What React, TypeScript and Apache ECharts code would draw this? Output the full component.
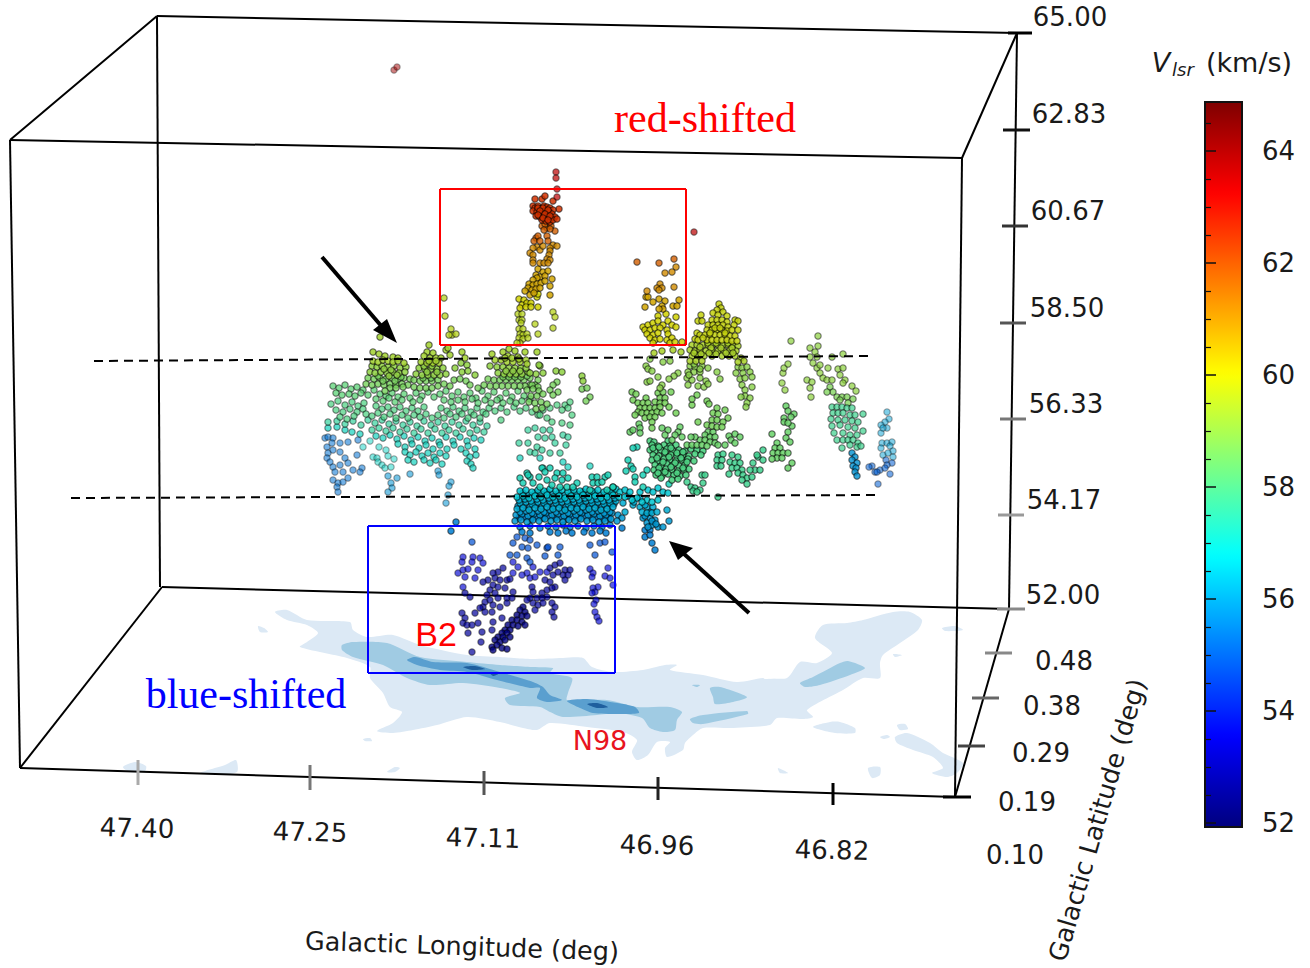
import React, { useEffect, useRef } from "react";
import * as echarts from "echarts";

// Tick labels
const velocityTicks = ["65.00", "62.83", "60.67", "58.50", "56.33", "54.17", "52.00"];
const longitudeTicks = ["47.40", "47.25", "47.11", "46.96", "46.82"];
const latitudeTicks = ["0.48", "0.38", "0.29", "0.19", "0.10"];
const jet = ["#00007f", "#0000ff", "#007fff", "#00ffff", "#7fff7f", "#ffff00", "#ff7f00", "#ff0000", "#7f0000"];
const jetShaded = ["#000068", "#0000d1", "#0068d1", "#00d1d1", "#68d168", "#d1d100", "#d16800", "#d10000", "#680000"];

const stray640 = [394, 70, 397, 67];
const top642 = [556, 172, 556, 178, 557, 189, 557, 197, 694, 232];
const top636 = [535, 199, 542, 199, 545, 196, 553, 201, 559, 209, 533, 206, 535, 208, 538, 206, 541, 209, 544, 206, 547, 207, 550, 208, 553, 210, 533, 211, 537, 212, 541, 213, 545, 211, 549, 212, 552, 214, 536, 216, 540, 217, 544, 216, 548, 217, 551, 218, 555, 217, 542, 220, 546, 221, 550, 222, 553, 220, 557, 219, 538, 208, 543, 208, 548, 210, 540, 211, 545, 214, 538, 215, 550, 216, 543, 218, 548, 220];
const column626 = [547, 228, 542, 226, 545, 224, 551, 226, 555, 231, 550, 229, 544, 230, 536, 238, 534, 241, 538, 236, 540, 241, 547, 236, 548, 241, 637, 262, 659, 263, 674, 259];
const column616 = [553, 245, 557, 246, 550, 248, 537, 247, 533, 248, 540, 250, 543, 246, 530, 253, 533, 255, 550, 251, 549, 255, 547, 259, 550, 260, 533, 260, 533, 263, 540, 263, 544, 263, 548, 263, 676, 267, 672, 272, 665, 273, 660, 284, 657, 288, 662, 288, 659, 290, 674, 287, 647, 291];
const column608 = [538, 269, 543, 272, 548, 271, 536, 275, 540, 277, 545, 276, 537, 278, 533, 280, 529, 284, 533, 285, 537, 284, 541, 283, 545, 281, 528, 288, 532, 290, 536, 289, 540, 288, 525, 291, 530, 295, 534, 293, 552, 279, 550, 286, 550, 295, 646, 297, 648, 297, 659, 299, 653, 302, 665, 301, 679, 300, 662, 306, 645, 307, 673, 306, 677, 306, 663, 309, 659, 309];
const column601 = [537, 297, 538, 294, 519, 299, 524, 300, 522, 305, 527, 303, 531, 303, 520, 308, 526, 307, 531, 307, 538, 307, 658, 316, 666, 314, 676, 317, 643, 327, 648, 325, 653, 323, 658, 321, 663, 325, 668, 321, 672, 325, 676, 327, 645, 330, 650, 330, 655, 328, 660, 328, 667, 330, 647, 334, 653, 335, 658, 333, 668, 334, 650, 338, 655, 340, 660, 339, 667, 340, 672, 338, 653, 343, 670, 343, 675, 342, 682, 342];
const column596 = [553, 312, 555, 317, 553, 328, 535, 324, 538, 334, 518, 314, 522, 314, 519, 320, 522, 320, 521, 323, 519, 329, 523, 329, 520, 334, 523, 335, 527, 334, 519, 338, 523, 339, 528, 338, 520, 343, 517, 343, 444, 298, 445, 316, 451, 329, 452, 335, 456, 334, 449, 335];
const peak598 = [719, 304, 721, 308, 717, 310, 723, 312, 713, 313, 718, 315, 727, 316, 701, 315, 698, 321, 702, 321, 735, 320, 738, 321, 734, 325, 712, 320, 717, 320, 722, 320, 727, 322, 708, 325, 713, 325, 718, 325, 723, 325, 728, 327, 707, 330, 712, 330, 717, 330, 722, 330, 727, 331, 732, 330, 738, 330, 697, 333, 700, 335, 705, 335, 710, 335, 715, 335, 720, 335, 725, 335, 730, 336, 735, 336, 695, 339, 698, 340, 707, 340, 712, 340, 717, 340, 722, 340, 727, 340, 732, 341, 737, 341, 715, 328, 720, 328, 710, 333, 725, 333, 703, 338];
const peak594 = [692, 345, 697, 345, 703, 345, 708, 345, 713, 345, 718, 345, 723, 345, 728, 345, 733, 345, 738, 346, 690, 350, 695, 351, 700, 350, 706, 351, 712, 350, 718, 351, 724, 351, 730, 350, 736, 351, 692, 356, 698, 356, 704, 356, 712, 356, 722, 356, 729, 356, 735, 356, 690, 361, 696, 361, 702, 361, 741, 358, 744, 361, 738, 362, 654, 353, 662, 351, 673, 350, 681, 352, 708, 343, 716, 343, 728, 343, 700, 347, 711, 348, 721, 348, 732, 348, 694, 353, 701, 354, 709, 353, 716, 354, 726, 353, 733, 353];
const peak589 = [690, 366, 695, 367, 702, 366, 708, 368, 738, 367, 742, 368, 747, 367, 688, 372, 694, 372, 700, 372, 736, 373, 743, 373, 750, 372, 687, 378, 692, 380, 700, 378, 706, 381, 717, 372, 720, 379, 740, 379, 745, 378, 752, 377, 688, 385, 698, 386, 704, 387, 708, 384, 742, 385, 745, 390, 752, 387, 745, 396, 750, 398, 747, 403, 741, 397, 746, 407, 650, 359, 663, 362, 670, 361, 646, 366, 648, 369, 652, 371, 678, 373, 674, 376, 669, 379, 658, 377, 647, 382, 650, 381, 662, 385, 660, 388, 694, 364, 700, 369, 689, 375];
const middle586 = [632, 392, 636, 394, 633, 400, 646, 398, 658, 393, 663, 392, 671, 392, 660, 398, 665, 398, 638, 403, 643, 403, 648, 403, 655, 402, 660, 403, 665, 403, 669, 407, 676, 413, 640, 408, 645, 408, 650, 408, 655, 408, 660, 407, 638, 412, 635, 415, 642, 413, 647, 413, 652, 413, 657, 412, 645, 418, 650, 417, 655, 417, 662, 413, 652, 422, 652, 428, 692, 405, 697, 395, 692, 399, 707, 401, 709, 404, 698, 422, 717, 408, 725, 410, 713, 413, 718, 414, 728, 418, 712, 420, 717, 420, 723, 422, 707, 425, 712, 426, 717, 427, 722, 427];
const middle584 = [630, 432, 633, 430, 639, 424, 640, 428, 640, 433, 662, 428, 668, 430, 665, 435, 680, 427, 678, 432, 675, 435, 682, 437, 672, 440, 708, 432, 713, 432, 705, 435, 710, 437, 715, 437, 700, 440, 705, 440, 710, 442, 715, 443, 695, 437, 691, 437, 687, 445, 692, 445, 697, 445, 702, 445, 707, 446, 718, 445, 725, 445, 729, 436, 735, 434, 740, 437, 731, 440, 735, 443, 777, 443, 775, 448, 780, 448, 773, 453, 778, 453, 783, 453, 777, 458, 782, 458, 788, 453, 772, 459, 792, 463, 788, 468, 772, 434, 788, 432, 786, 438, 790, 442, 786, 406, 788, 411, 794, 414, 784, 418, 791, 417, 792, 426, 784, 422, 788, 423];
const dense580 = [650, 441, 654, 442, 668, 441, 652, 445, 658, 446, 664, 445, 670, 446, 676, 445, 650, 450, 655, 451, 661, 450, 667, 449, 673, 451, 679, 450, 685, 451, 691, 449, 697, 450, 703, 451, 653, 455, 659, 456, 665, 454, 671, 455, 677, 456, 683, 455, 689, 456, 695, 454, 701, 455, 652, 460, 658, 461, 664, 459, 670, 460, 676, 461, 682, 460, 688, 459, 694, 461, 655, 465, 661, 466, 667, 464, 673, 465, 679, 466, 685, 465, 654, 470, 660, 471, 666, 469, 672, 470, 678, 471, 684, 470, 689, 469, 656, 475, 662, 476, 668, 474, 674, 475, 680, 476, 686, 475, 661, 478, 672, 480, 678, 479, 653, 448, 659, 447, 665, 452, 671, 448, 677, 453, 683, 452, 657, 458, 663, 462, 669, 457, 675, 463, 681, 458, 687, 462, 659, 468, 665, 472, 671, 467, 677, 473, 683, 468, 658, 473];
const wing578 = [718, 455, 723, 454, 732, 455, 738, 457, 717, 460, 722, 460, 717, 466, 721, 466, 730, 462, 735, 463, 740, 463, 732, 468, 737, 468, 742, 470, 729, 474, 738, 473, 743, 475, 747, 478, 742, 480, 747, 484, 752, 477, 755, 470, 750, 470, 760, 470, 753, 463, 758, 457, 763, 460, 757, 455, 763, 450, 687, 482, 691, 487, 702, 475, 705, 475, 703, 483, 695, 488, 700, 490, 693, 491, 697, 492, 718, 497];
const ridgeFar590 = [791, 341, 818, 336, 810, 348, 818, 346, 815, 352, 810, 357, 817, 357, 843, 354, 832, 357, 813, 363, 817, 368, 820, 365, 820, 373, 823, 378, 828, 368, 827, 380, 832, 380, 838, 369, 843, 368, 840, 375, 845, 380, 843, 383, 807, 380, 812, 382, 810, 388, 811, 397, 852, 386, 856, 391, 782, 383, 785, 390, 783, 373, 784, 368, 788, 364];
const ridgeFar587 = [830, 387, 833, 392, 827, 392, 837, 397, 842, 397, 847, 397, 853, 399, 848, 403, 840, 400];
const ridgeFar578 = [832, 407, 837, 407, 842, 407, 847, 408, 852, 408, 833, 413, 838, 413, 843, 413, 850, 415, 855, 415, 863, 414, 831, 419, 838, 420, 845, 420, 852, 421, 858, 422, 832, 426, 840, 425, 848, 427, 855, 428, 863, 431, 834, 433, 843, 433, 850, 435, 857, 435, 837, 440, 843, 440, 848, 440, 853, 440, 858, 443, 842, 448, 850, 445, 857, 447, 861, 446];
const ridgeFar558 = [852, 453, 855, 457, 852, 460, 857, 463, 853, 466, 856, 468, 855, 472, 857, 476];
const edgeFar560 = [887, 412, 889, 419, 885, 422, 881, 425, 887, 428, 881, 433, 883, 428, 882, 443, 887, 443, 892, 442, 881, 448, 890, 446, 893, 451, 883, 455, 888, 453, 893, 457];
const edgeFar550 = [886, 460, 892, 463, 887, 465, 872, 466, 869, 467, 875, 472, 880, 470, 885, 468, 890, 474, 878, 484, 877, 472];
const cloudTop593 = [373, 352, 379, 354, 385, 356, 393, 357, 398, 358, 380, 337, 373, 361, 378, 362, 383, 360, 388, 361, 393, 362, 398, 361, 404, 363, 429, 345, 427, 352, 433, 353, 424, 356, 430, 358, 436, 358, 441, 358, 421, 362, 427, 363, 433, 363, 439, 363, 446, 350, 450, 355, 448, 348, 462, 352, 465, 358, 492, 354, 503, 352, 509, 349, 515, 351, 518, 357, 525, 352, 508, 356, 501, 360, 507, 362, 513, 362, 520, 362, 526, 360, 537, 352, 495, 360, 429, 361, 436, 361, 505, 358, 512, 358, 519, 359, 527, 364];
const cloudTop590 = [372, 366, 377, 367, 382, 366, 388, 367, 394, 366, 400, 368, 406, 367, 370, 372, 375, 373, 381, 372, 387, 373, 393, 372, 399, 373, 405, 372, 419, 368, 425, 369, 431, 369, 437, 369, 443, 368, 416, 374, 422, 375, 428, 375, 434, 375, 440, 375, 446, 374, 461, 363, 467, 365, 455, 368, 462, 372, 468, 371, 475, 375, 490, 366, 497, 367, 503, 367, 509, 368, 515, 368, 521, 368, 498, 373, 504, 374, 510, 374, 516, 374, 522, 374, 528, 372, 536, 374, 540, 366, 530, 373, 539, 365, 543, 373, 556, 371, 562, 372, 582, 376, 583, 381, 384, 369, 391, 370, 397, 375, 389, 376, 424, 366, 432, 366, 427, 372, 437, 372, 506, 371, 513, 371, 520, 371, 526, 368];
const cloud586 = [368, 378, 374, 379, 380, 378, 386, 379, 392, 378, 398, 379, 404, 378, 410, 379, 366, 384, 372, 385, 378, 384, 384, 385, 390, 384, 396, 385, 402, 384, 408, 385, 414, 380, 420, 381, 426, 381, 432, 381, 438, 380, 454, 380, 460, 379, 466, 381, 488, 379, 494, 380, 500, 380, 506, 380, 512, 380, 518, 380, 524, 380, 530, 378, 538, 380, 535, 385, 530, 385, 525, 386, 520, 386, 514, 386, 508, 386, 502, 386, 496, 386, 490, 386, 484, 385, 478, 388, 532, 385, 538, 387, 557, 382, 553, 385, 550, 390, 558, 392, 553, 395, 582, 389, 587, 388, 590, 397, 586, 401, 414, 387, 420, 388, 426, 388, 432, 388, 438, 386, 444, 384, 450, 386, 470, 385, 383, 381, 395, 381, 401, 377, 378, 376, 390, 388, 396, 388, 385, 391, 403, 387, 423, 378, 431, 378, 503, 377, 509, 377, 515, 377, 521, 377, 527, 376, 527, 390, 533, 389, 539, 391, 531, 396, 537, 396, 543, 394, 529, 402, 535, 403, 541, 402, 547, 404, 536, 409, 542, 408];
const cloud582 = [333, 386, 339, 388, 345, 385, 351, 389, 357, 387, 363, 390, 336, 393, 342, 395, 349, 394, 355, 396, 361, 393, 368, 395, 374, 390, 380, 394, 386, 396, 392, 393, 398, 397, 404, 394, 410, 398, 416, 393, 422, 396, 428, 392, 434, 397, 440, 394, 446, 391, 452, 396, 458, 392, 464, 397, 470, 393, 476, 398, 482, 391, 488, 396, 494, 392, 500, 398, 506, 393, 512, 397, 518, 391, 524, 396, 530, 399, 376, 399, 383, 401, 389, 398, 395, 402, 402, 400, 413, 402, 420, 400, 444, 400, 451, 402, 458, 400, 465, 402, 472, 399, 478, 403, 485, 400, 491, 403, 497, 400, 503, 403, 510, 401, 516, 403, 522, 401];
const cloud580 = [331, 404, 338, 401, 345, 405, 352, 402, 358, 406, 364, 403, 336, 410, 343, 412, 350, 409, 357, 412, 363, 409, 376, 406, 382, 409, 388, 407, 394, 410, 400, 407, 406, 411, 412, 408, 418, 411, 424, 407, 441, 408, 447, 411, 453, 407, 459, 411, 465, 408, 471, 412, 477, 408, 483, 412, 489, 408, 495, 411, 501, 408, 507, 412, 514, 407, 520, 411, 526, 408, 532, 412, 538, 415, 340, 417, 347, 419, 354, 416, 366, 414, 372, 416, 378, 413, 384, 417, 390, 414, 396, 418, 402, 415, 408, 418, 414, 415, 420, 417, 426, 414, 432, 418, 438, 415, 444, 418, 450, 414, 456, 417, 462, 414, 468, 418, 474, 415, 480, 418, 486, 414, 501, 420, 550, 408, 557, 405, 565, 405, 570, 402, 568, 408, 562, 410, 543, 410, 540, 415, 547, 418, 552, 422, 572, 415, 562, 423, 570, 425];
const cloud576 = [328, 422, 337, 421, 345, 424, 353, 421, 361, 425, 368, 420, 375, 423, 382, 420, 389, 424, 396, 421, 403, 425, 410, 422, 417, 426, 424, 421, 431, 425, 438, 422, 445, 426, 452, 422, 459, 425, 466, 421, 473, 425, 480, 422, 487, 426, 372, 430, 379, 428, 386, 431, 393, 428, 400, 432, 407, 429, 414, 433, 421, 429, 428, 433, 435, 429, 442, 433, 449, 430, 456, 433, 463, 429, 470, 433, 477, 430, 484, 432, 528, 430, 535, 428, 543, 430, 550, 430, 563, 435, 568, 437, 538, 437, 545, 438, 552, 437, 555, 443, 566, 445, 519, 443, 528, 443, 537, 447, 542, 450, 550, 453, 560, 453, 530, 452, 535, 453];
const cloud571 = [328, 428, 337, 427, 345, 430, 352, 432, 360, 434, 376, 436, 383, 438, 390, 435, 397, 439, 404, 436, 411, 440, 418, 437, 425, 441, 432, 438, 439, 442, 446, 437, 453, 441, 460, 437, 467, 441, 474, 438, 481, 440, 398, 444, 405, 447, 412, 444, 419, 448, 426, 445, 433, 449, 440, 445, 447, 449, 454, 445, 461, 449, 468, 446, 475, 449, 405, 452, 410, 455, 416, 452, 422, 456, 428, 453, 434, 457, 440, 453, 446, 456, 466, 453, 470, 457, 476, 455, 408, 460, 414, 462, 424, 460, 430, 463, 436, 460, 442, 464, 467, 461, 471, 464, 473, 468, 520, 458, 540, 458, 563, 462, 568, 467, 590, 466, 543, 468];
const cloudFaint570 = [373, 457, 377, 458, 378, 462, 382, 465, 385, 468, 391, 467, 388, 456, 394, 459, 370, 441, 379, 447, 386, 450, 363, 447];
const cloudFaint558 = [388, 476, 397, 478, 391, 483, 392, 488, 388, 492, 410, 474, 438, 471, 439, 475, 451, 482, 449, 486, 448, 495, 446, 503];
const cloudBlue553 = [325, 438, 328, 437, 333, 438, 327, 447, 332, 443, 340, 443, 348, 442, 358, 440, 328, 453, 333, 450, 340, 452, 327, 458, 330, 462, 345, 458, 357, 455, 333, 467, 340, 465, 348, 463, 335, 472, 343, 472, 353, 470, 362, 468, 360, 472, 333, 480, 338, 483, 343, 482, 348, 478, 337, 487, 338, 492];
const band572 = [520, 478, 527, 473, 530, 477, 542, 468, 545, 472, 550, 468, 557, 473, 563, 473, 555, 478, 562, 480, 568, 478, 547, 480, 533, 483, 523, 483, 540, 487, 552, 485, 560, 487, 567, 487, 577, 483, 573, 487, 592, 477, 597, 477, 593, 483, 598, 483, 605, 477, 613, 487, 607, 490, 590, 490, 608, 475, 602, 482, 613, 487, 628, 460, 631, 466, 633, 469, 626, 471, 647, 470, 643, 475, 635, 477, 637, 447, 633, 448, 635, 482, 643, 487, 669, 484, 539, 477, 528, 475];
const band566 = [520, 491, 526, 490, 532, 492, 538, 490, 544, 491, 550, 489, 556, 491, 562, 490, 568, 492, 574, 490, 580, 491, 586, 489, 592, 491, 598, 490, 604, 492, 610, 491, 616, 489, 620, 492, 625, 490, 630, 492, 640, 492, 648, 490, 653, 492, 658, 488, 663, 492, 668, 493, 517, 497, 523, 496, 529, 498, 535, 496, 541, 497, 547, 495, 553, 497, 559, 496, 565, 498, 571, 496, 577, 497, 583, 495, 589, 497, 595, 496, 601, 498, 607, 497, 613, 495, 619, 497, 625, 497, 637, 498, 647, 500, 632, 500, 642, 502, 652, 502, 658, 500];
const band562 = [520, 503, 526, 502, 532, 504, 538, 502, 544, 503, 550, 501, 556, 503, 562, 502, 568, 504, 574, 502, 580, 503, 586, 501, 592, 503, 598, 502, 604, 504, 610, 503, 616, 501, 623, 503, 633, 505, 640, 507, 647, 507, 653, 507, 667, 510, 517, 509, 523, 508, 529, 510, 535, 508, 541, 509, 547, 507, 553, 509, 559, 508, 565, 510, 571, 508, 577, 509, 583, 507, 589, 509, 595, 508, 601, 510, 607, 509, 613, 507, 625, 512, 642, 512, 647, 513, 652, 513, 657, 512, 523, 493, 529, 495, 535, 493, 541, 494, 547, 492, 553, 494, 559, 493, 565, 495, 571, 493, 577, 494, 583, 492, 589, 494, 595, 493, 601, 495, 607, 494, 613, 492, 519, 500, 525, 499, 531, 501, 537, 499, 543, 500, 549, 498, 555, 500, 561, 499, 567, 501, 573, 499, 579, 500, 585, 498, 591, 500, 597, 499, 603, 501, 609, 500, 615, 498, 628, 496, 634, 502, 640, 498, 645, 505];
const band559 = [516, 515, 522, 514, 528, 516, 534, 514, 540, 515, 546, 513, 552, 515, 558, 514, 564, 516, 570, 514, 576, 515, 582, 513, 588, 515, 594, 514, 600, 516, 606, 515, 612, 513, 618, 515, 622, 518, 643, 518, 650, 518, 655, 520, 669, 521, 515, 521, 521, 520, 527, 522, 533, 520, 539, 521, 545, 519, 551, 521, 557, 520, 563, 522, 569, 520, 575, 521, 581, 519, 587, 521, 593, 520, 599, 522, 605, 521, 611, 519, 617, 521, 647, 523, 652, 525, 658, 527, 663, 527, 518, 506, 524, 505, 530, 507, 536, 505, 542, 506, 548, 504, 554, 506, 560, 505, 566, 507, 572, 505, 578, 506, 584, 504, 590, 506, 596, 505, 602, 507, 608, 506, 614, 504, 520, 512, 526, 511, 532, 513, 538, 511, 544, 512, 550, 510, 556, 512, 562, 511, 568, 513, 574, 511, 580, 512, 586, 510, 592, 512, 598, 511, 604, 513, 610, 512, 650, 512, 645, 516, 652, 521, 648, 527, 656, 524];
const band555 = [520, 527, 530, 526, 540, 528, 548, 526, 556, 527, 563, 525, 570, 527, 578, 526, 586, 528, 594, 526, 602, 527, 610, 525, 622, 528, 645, 530, 650, 530, 522, 532, 530, 533, 550, 532, 558, 533, 566, 531, 572, 533, 584, 532, 592, 533, 600, 531, 606, 533, 645, 537, 650, 535, 652, 543, 655, 550, 456, 522, 451, 531, 519, 518, 525, 517, 531, 519, 537, 517, 543, 518, 549, 516, 555, 518, 561, 517, 567, 519, 573, 517, 579, 518, 585, 516, 591, 518, 597, 517, 603, 519, 609, 518];
const blue548 = [517, 537, 525, 538, 530, 540, 537, 545, 513, 543, 522, 547, 528, 548, 547, 548, 560, 547, 510, 555, 517, 555, 527, 558, 530, 562, 548, 547, 545, 556, 558, 555, 472, 542, 595, 555, 600, 543, 605, 542, 612, 552, 590, 545];
const blue536 = [463, 557, 473, 557, 480, 558, 462, 562, 472, 562, 458, 573, 463, 570, 468, 569, 478, 570, 483, 563, 465, 577, 475, 578, 463, 587, 513, 562, 518, 567, 533, 567, 540, 572, 547, 572, 527, 573, 530, 578, 535, 577, 513, 573, 522, 575, 590, 569, 593, 573, 592, 577, 608, 568, 605, 576, 610, 578, 613, 585, 598, 587, 593, 588, 595, 592, 592, 593, 596, 600, 594, 604, 595, 612, 597, 617, 599, 621];
const blue527 = [498, 572, 503, 568, 493, 573, 488, 580, 483, 582, 495, 578, 500, 580, 507, 580, 510, 579, 493, 585, 498, 587, 490, 590, 505, 588, 487, 595, 495, 593, 470, 597, 465, 593, 513, 592, 532, 587, 533, 592, 485, 602, 490, 600, 498, 598, 507, 598, 512, 598, 483, 607, 480, 608, 493, 605, 500, 607, 507, 603, 485, 612, 475, 613, 492, 612, 462, 613, 465, 618, 463, 623, 467, 625, 472, 625, 478, 623, 468, 633, 482, 632, 481, 642, 472, 652, 493, 622, 502, 618, 492, 630, 550, 568, 555, 565, 560, 563, 565, 570, 570, 570, 563, 575, 568, 575, 565, 580, 558, 572, 553, 575, 545, 580, 550, 582, 555, 587, 547, 590, 552, 588, 542, 593, 547, 597, 537, 598, 542, 598, 533, 603, 538, 605, 543, 603, 535, 610, 552, 603, 555, 607, 552, 612, 554, 617, 530, 598, 527, 600];
const strand523 = [523, 607, 520, 610, 525, 612, 517, 615, 522, 616, 527, 616, 512, 620, 517, 620, 522, 622, 508, 625, 513, 625, 518, 626, 525, 625, 505, 630, 510, 630, 502, 633, 507, 633, 498, 637, 503, 637, 510, 637, 495, 640, 500, 642, 505, 640, 492, 647, 497, 645, 502, 648, 507, 649, 493, 650];

// name, velocity, fade, points
const pointGroups: [string, number, number, number[]][] = [
  ["edgeFar560", 56.0, 0.5, edgeFar560], ["edgeFar550", 55.0, 0.55, edgeFar550],
  ["ridgeFar590", 59.0, 0.72, ridgeFar590], ["ridgeFar587", 58.7, 0.75, ridgeFar587], ["ridgeFar578", 57.8, 0.72, ridgeFar578], ["ridgeFar558", 55.8, 0.8, ridgeFar558],
  ["cloudBlue553", 55.3, 0.55, cloudBlue553], ["cloudFaint558", 55.8, 0.55, cloudFaint558], ["cloudFaint570", 57.0, 0.5, cloudFaint570],
  ["cloud571", 57.1, 0.7, cloud571], ["cloud576", 57.6, 0.7, cloud576], ["cloud580", 58.0, 0.72, cloud580], ["cloud582", 58.2, 0.75, cloud582], ["cloud586", 58.6, 0.8, cloud586], ["cloudTop590", 59.0, 0.85, cloudTop590], ["cloudTop593", 59.3, 0.85, cloudTop593],
  ["blue548", 54.8, 0.7, blue548], ["blue536", 53.6, 0.65, blue536], ["blue527", 52.7, 0.7, blue527], ["strand523", 52.3, 0.8, strand523],
  ["band555", 55.5, 0.85, band555], ["band559", 55.9, 0.85, band559], ["band562", 56.2, 0.85, band562], ["band566", 56.6, 0.85, band566], ["band572", 57.2, 0.85, band572],
  ["wing578", 57.8, 0.85, wing578], ["dense580", 58.0, 0.9, dense580], ["middle584", 58.4, 0.85, middle584], ["middle586", 58.6, 0.85, middle586],
  ["peak589", 58.9, 0.8, peak589], ["peak594", 59.4, 0.85, peak594], ["peak598", 59.8, 0.85, peak598],
  ["column596", 59.6, 0.75, column596], ["column601", 60.0, 0.85, column601], ["column608", 60.7, 0.85, column608], ["column616", 61.1, 0.8, column616], ["column626", 61.8, 0.8, column626], ["top636", 62.5, 0.85, top636], ["top642", 63.6, 0.7, top642], ["stray640", 64.0, 0.5, stray640],
];

// Contours on the floor of the box, as x,y outlines
const lightMain = [275, 612, 287, 610, 307, 620, 350, 622, 353, 630, 367, 637, 393, 635, 420, 645, 467, 655, 500, 657, 530, 659, 563, 658, 583, 658, 592, 667, 613, 672, 643, 670, 665, 665, 677, 665, 670, 670, 703, 675, 737, 682, 763, 678, 787, 678, 800, 662, 817, 663, 832, 653, 815, 638, 823, 625, 847, 623, 863, 620, 893, 612, 910, 612, 922, 620, 918, 630, 900, 643, 883, 655, 880, 663, 880, 678, 863, 678, 843, 690, 807, 710, 813, 717, 803, 719, 777, 718, 770, 725, 730, 728, 703, 728, 693, 735, 685, 743, 683, 750, 667, 757, 665, 748, 670, 742, 657, 742, 648, 755, 637, 760, 632, 752, 637, 740, 623, 732, 587, 727, 550, 723, 537, 730, 523, 728, 500, 722, 467, 717, 437, 725, 413, 730, 393, 733, 377, 731, 393, 723, 402, 712, 390, 707, 383, 693, 370, 678, 370, 667, 347, 658, 300, 647, 307, 642, 318, 633, 307, 625, 287, 620];
const lightBlobs = [
  [258, 626, 264, 628, 268, 632, 260, 632],
  [123, 767, 135, 762, 146, 766, 145, 771, 130, 772],
  [200, 773, 225, 765, 236, 760, 237, 772, 215, 775],
  [387, 772, 395, 767, 400, 768, 395, 772],
  [363, 739, 370, 738, 372, 741, 365, 741],
  [813, 727, 830, 722, 840, 722, 855, 728, 855, 733, 835, 733],
  [897, 725, 905, 724, 908, 729, 900, 730],
  [880, 737, 887, 735, 890, 737, 884, 739],
  [895, 737, 907, 733, 930, 743, 943, 753, 963, 763, 957, 773, 947, 777, 932, 773, 943, 768, 933, 757, 913, 750, 897, 743],
  [868, 768, 880, 767, 880, 775, 872, 778],
  [778, 768, 788, 773, 780, 773],
  [942, 628, 955, 626, 963, 630, 945, 631],
  [893, 654, 902, 655, 895, 657],
];
const whiteGap = [762, 676, 775, 673, 778, 677, 765, 679];
const midMain = [342, 645, 353, 642, 387, 643, 420, 657, 467, 662, 500, 665, 530, 667, 553, 668, 550, 673, 572, 678, 568, 693, 567, 700, 607, 700, 637, 707, 670, 707, 682, 712, 677, 720, 675, 730, 663, 732, 650, 728, 642, 718, 617, 713, 597, 715, 563, 717, 550, 712, 540, 707, 510, 705, 505, 698, 520, 693, 500, 688, 463, 683, 430, 685, 407, 678, 383, 665, 353, 657, 342, 650];
const midBlobs = [
  [800, 683, 813, 677, 840, 663, 848, 661, 865, 668, 850, 675, 820, 685, 805, 687],
  [710, 688, 720, 687, 747, 697, 733, 702, 715, 704, 713, 697],
  [690, 719, 703, 715, 747, 711, 748, 714, 703, 724, 693, 723],
  [692, 685, 700, 685, 697, 687],
];
const strongBlobs = [
  [407, 660, 415, 657, 433, 662, 467, 663, 500, 672, 533, 682, 543, 687, 550, 695, 562, 700, 547, 702, 537, 698, 540, 688, 530, 688, 497, 680, 467, 672, 440, 670, 417, 665],
  [567, 701, 587, 699, 617, 703, 635, 707, 639, 713, 617, 714, 593, 713, 580, 708],
];
const peakBlobs = [
  [587, 704, 597, 703, 608, 707, 597, 708],
  [463, 667, 475, 666, 485, 669, 472, 670],
  [490, 673, 498, 674, 493, 676],
];

// Box edges and tick strokes as x1,y1,x2,y2
const boxEdges = [
  [157, 16, 1017, 33], [157, 16, 160, 587], [1017, 33, 1009, 609], [10, 140, 962, 158], [157, 16, 10, 140], [1017, 33, 962, 158],
  [10, 140, 20, 768], [962, 158, 955, 797], [20, 768, 955, 797], [20, 768, 162, 587], [162, 587, 1009, 609], [955, 797, 1009, 609],
];
const velocityStrokes = [[1008, 33, 1032, 33], [1003, 130, 1030, 130], [1002, 226, 1028, 226], [1000, 323, 1026, 323], [1000, 419, 1026, 419], [998, 515, 1024, 515], [997, 609, 1025, 609]];
const velocityShades = ["#000", "#111", "#333", "#555", "#777", "#999", "#888"];
const longitudeStrokes = [[138, 760, 138, 785], [310, 765, 310, 790], [484, 771, 484, 795], [658, 777, 658, 800], [833, 783, 833, 805]];
const longitudeShades = ["#aaa", "#777", "#555", "#222", "#000"];
const latitudeStrokes = [[985, 653, 1012, 653], [972, 698, 999, 698], [958, 746, 985, 746], [943, 797, 971, 797]];
const latitudeShades = ["#888", "#666", "#444", "#000"];
const upperDash = [[94, 361, 873, 356]];
const lowerDash = [[71, 498, 880, 495]];
const arrowShafts = [[322, 257, 383, 328], [749, 613, 683, 553]];
const arrowHeads = [[397, 343, 373, 330, 387, 319], [669, 541, 693, 548, 678, 560]];
const redBox = [[440, 189, 686, 189], [686, 189, 686, 345], [686, 345, 440, 345], [440, 345, 440, 189]];
const blueBox = [[368, 526, 615, 526], [615, 526, 615, 673], [615, 673, 368, 673], [368, 673, 368, 526]];

const pairs = (flat: number[], v: number) => {
  const out: number[][] = [];
  for (let i = 0; i < flat.length; i += 2) out.push([flat[i], flat[i + 1], v]);
  return out;
};

const polygons = (name: string, polys: number[][], fill: string, z: number, smooth = 0.25) => ({
  type: "custom", name, z, silent: true, clip: false,
  data: polys.map((_, i) => [i]),
  renderItem: (_p: any, api: any) => {
    const flat = polys[api.value(0)];
    const points: number[][] = [];
    for (let i = 0; i < flat.length; i += 2) points.push(api.coord([flat[i], flat[i + 1]]));
    return { type: "polygon", shape: { points, smooth }, style: { fill } };
  },
});

const strokes = (name: string, edges: number[][], colors: string[], width: number, z: number, dash?: number[]) => ({
  type: "custom", name, z, silent: true, clip: false,
  data: edges.map((_, i) => [i]),
  renderItem: (_p: any, api: any) => {
    const i = api.value(0);
    const e = edges[i];
    const a = api.coord([e[0], e[1]]);
    const b = api.coord([e[2], e[3]]);
    return {
      type: "line",
      shape: { x1: a[0], y1: a[1], x2: b[0], y2: b[1] },
      style: { stroke: colors[i % colors.length], lineWidth: width, lineDash: dash, fill: null },
    };
  },
});

const label = (text: string, x: number, y: number, fontSize: number, extra: any = {}, rotation = 0) => ({
  type: "text", x, y, rotation, z: 20, silent: true,
  style: {
    text, fontSize, fontFamily: "DejaVu Sans", fill: "#1a1a1a",
    textAlign: "center", textVerticalAlign: "middle", ...extra,
  },
});

export default function App() {
  const ref = useRef<HTMLDivElement>(null);
  useEffect(() => {
    const chart = echarts.init(ref.current!, undefined, { renderer: "svg" });
    const scatter = pointGroups.map(([name, v, fade, pts]) => ({
      type: "scatter", name, z: 5, silent: true, clip: false, symbolSize: 6.4,
      data: pairs(pts, v),
      itemStyle: { opacity: fade, borderColor: "rgba(0,0,0,0.7)", borderWidth: 1.1 },
    }));
    const velocityX = [1070, 1069, 1068, 1067, 1066, 1064, 1063];
    const velocityY = [17, 114, 211, 308, 404, 500, 595];
    const longitudeX = [137, 310, 483, 657, 832];
    const longitudeY = [828, 832, 838, 845, 850];
    const latitudeX = [1064, 1052, 1041, 1027, 1015];
    const latitudeY = [661, 706, 753, 802, 855];
    chart.setOption({
      animation: false,
      backgroundColor: "#fff",
      grid: [
        { left: 0, top: 0, width: 1310, height: 968, show: false },
        { left: 1205, top: 102, width: 37, height: 721, show: false },
      ],
      xAxis: [
        { type: "value", min: 0, max: 1310, show: false, gridIndex: 0 },
        { type: "value", min: 0, max: 1, show: false, gridIndex: 1 },
      ],
      yAxis: [
        { type: "value", min: 0, max: 968, inverse: true, show: false, gridIndex: 0 },
        {
          type: "value", min: 52, max: 64.875, interval: 2, gridIndex: 1, position: "right", z: 8,
          axisLine: { show: false },
          axisTick: { show: true, length: 11, lineStyle: { color: "#111", width: 1.5 } },
          minorTick: { show: true, splitNumber: 4, length: 6, lineStyle: { color: "#111", width: 1.2 } },
          splitLine: { show: false }, minorSplitLine: { show: false },
          axisLabel: { show: true, showMaxLabel: false, fontSize: 26, fontFamily: "DejaVu Sans", color: "#1a1a1a", margin: 20 },
        },
      ],
      visualMap: [
        {
          type: "continuous", show: true, min: 51.93, max: 64.875, dimension: 2,
          seriesIndex: [pointGroups.length],
          inRange: { color: jet }, calculable: false, realtime: false,
          left: 1205, top: 102, itemWidth: 37, itemHeight: 725, padding: 0, text: ["", ""], textGap: 0,
          hoverLink: false,
        },
        {
          type: "continuous", show: false, min: 51.93, max: 64.875, dimension: 2,
          seriesIndex: pointGroups.map((_, i) => i),
          inRange: { color: jetShaded },
        },
      ],
      series: [
        ...scatter,
        { type: "scatter", name: "colorbarScale", data: [], silent: true },
        polygons("lightMain", [lightMain, ...lightBlobs], "#dce9f5", 1),
        polygons("whiteGap", [whiteGap], "#ffffff", 1.1),
        polygons("midMain", [midMain, ...midBlobs], "#a0cbe3", 1.2),
        polygons("strongBlobs", strongBlobs, "#5a9fcf", 1.3),
        polygons("peakBlobs", peakBlobs, "#1f5f9e", 1.4),
        strokes("box", boxEdges, ["#000"], 2, 2),
        strokes("velocityTicks", velocityStrokes, velocityShades, 3, 2),
        strokes("longitudeTicks", longitudeStrokes, longitudeShades, 3, 2),
        strokes("latitudeTicks", latitudeStrokes, latitudeShades, 3, 2),
        strokes("upperDash", upperDash, ["#000"], 2, 6, [9, 6]),
        strokes("lowerDash", lowerDash, ["#000"], 2, 6, [9, 6]),
        strokes("redBox", redBox, ["#ff0000"], 2, 7),
        strokes("blueBox", blueBox, ["#0000ff"], 2, 7),
        strokes("arrowShafts", arrowShafts, ["#000"], 4, 7),
        polygons("arrowHeads", arrowHeads, "#000", 7, 0),
      ],
      graphic: [
        ...velocityTicks.map((t, i) => label(t, velocityX[i], velocityY[i], 26)),
        ...longitudeTicks.map((t, i) => label(t, longitudeX[i], longitudeY[i], 26, {}, -0.03)),
        ...latitudeTicks.map((t, i) => label(t, latitudeX[i], latitudeY[i], 26)),
        label("Galactic Longitude (deg)", 462, 946, 25.5, {}, -0.035),
        label("Galactic Latitude (deg)", 1097, 820, 25.5, {}, 1.29),
        label("V", 1161, 62, 27, { fontStyle: "italic" }),
        label("lsr", 1183, 69, 18, { fontStyle: "italic" }),
        label("(km/s)", 1249, 62, 27),
        label("red-shifted", 705, 118, 42, { fontFamily: "Liberation Serif", fill: "#ff0000" }),
        label("blue-shifted", 246, 694, 42, { fontFamily: "Liberation Serif", fill: "#0000ff" }),
        label("B2", 436, 634, 34, { fontFamily: "Liberation Sans", fill: "#ff0000" }),
        label("N98", 600, 740, 27, { fill: "#e8141e" }),
        {
          type: "rect", z: 19, silent: true,
          shape: { x: 1205, y: 102, width: 37, height: 725 },
          style: { fill: "none", stroke: "#111", lineWidth: 2 },
        },
      ],
    });
    return () => chart.dispose();
  }, []);
  return <div ref={ref} style={{ position: "absolute", left: 0, top: 0, width: 1310, height: 968 }} />;
}
